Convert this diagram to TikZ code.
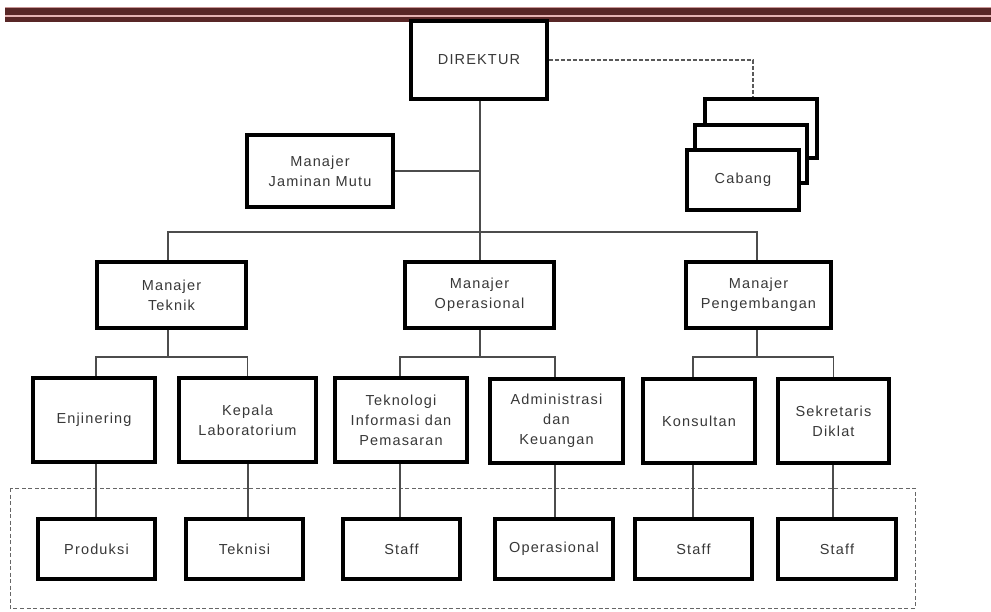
\documentclass[tikz,border=0pt]{standalone}
\usepackage{fontspec}
\setmainfont{Liberation Sans}[LetterSpace=8]
\definecolor{bandDark}{RGB}{88,38,38}
\definecolor{bandLight}{RGB}{228,178,178}
\definecolor{bandEdge}{RGB}{200,150,150}
\begin{document}
\begin{tikzpicture}[x=1pt,y=-1pt,
  box/.style={draw=black, line width=3.6pt, fill=white, inner sep=0pt, align=center,
    font=\fontsize{14.5}{20}\selectfont, text=black!78},
  conn/.style={draw=black!70, line width=1.3pt},
  dconn/.style={draw=black!65, line width=1.6pt, dash pattern=on 4pt off 2pt},
  drect/.style={draw=black!60, line width=1pt, dash pattern=on 4pt off 2.5pt}]
\useasboundingbox (0,0) rectangle (991,612);
% top band
\fill[bandDark] (5,7) rectangle (991,22);
\fill[bandEdge] (5,7) rectangle (991,8.5);
\fill[bandLight] (5,15.5) rectangle (991,17);
% group frame
\draw[drect] (10,488) rectangle (915,608);
% junction coordinates
\coordinate (j0) at (480,232);
\coordinate (bt) at (168,357);
\coordinate (bo) at (480,357);
\coordinate (bp) at (757,357);
% nodes
\node[box, minimum width=136, minimum height=78] (dir) at (479,60) {DIREKTUR};
\node[box, minimum width=146, minimum height=72] (jm) at (320,171) {Manajer\\Jaminan Mutu};
\node[box, minimum width=112, minimum height=59] (cb3) at (761,128.5) {};
\node[box, minimum width=112, minimum height=58] (cb2) at (751,154) {};
\node[box, minimum width=112, minimum height=60] (cb1) at (743,180) {Cabang};
\node[box, minimum width=149, minimum height=66] (mt) at (171.5,295) {Manajer\\Teknik};
\node[box, minimum width=149, minimum height=66] (mo) at (479.5,295) {Manajer\\Operasional};
\node[box, minimum width=145, minimum height=66] (mp) at (758.5,295) {Manajer\\Pengembangan};
\node[box, minimum width=122, minimum height=84] (en) at (94,420) {Enjinering};
\node[box, minimum width=137, minimum height=84] (kl) at (247.5,420) {Kepala\\Laboratorium};
\node[box, minimum width=132, minimum height=84] (ti) at (401,420) {Teknologi\\Informasi dan\\Pemasaran};
\node[box, minimum width=133, minimum height=84] (ak) at (556.5,421) {Administrasi\\dan\\Keuangan};
\node[box, minimum width=112, minimum height=84] (ko) at (699,421) {Konsultan};
\node[box, minimum width=111, minimum height=84] (sd) at (833.5,421) {Sekretaris\\Diklat};
\node[box, minimum width=117, minimum height=60] (pr) at (96.5,549) {Produksi};
\node[box, minimum width=117, minimum height=60] (te) at (244.5,549) {Teknisi};
\node[box, minimum width=117, minimum height=60] (s1) at (401.5,549) {Staff};
\node[box, minimum width=118, minimum height=60] (op) at (554,549) {Operasional};
\node[box, minimum width=117, minimum height=60] (s2) at (693.5,549) {Staff};
\node[box, minimum width=118, minimum height=60] (s3) at (837,549) {Staff};
% connectors
\draw[dconn] (dir.east) -| ([xshift=-8pt]cb3.north);
\draw[conn] (dir.south -| j0) -- (j0 |- mo.north);
\draw[conn] (jm.east) -- (jm.east -| j0);
\draw[conn] (bt |- mt.north) |- (j0) -| (bp |- mp.north);
\draw[conn] (bt |- mt.south) -- (bt);
\draw[conn] ([xshift=2pt]en.north) |- (bt) -| (kl.north);
\draw[conn] (bo |- mo.south) -- (bo);
\draw[conn] ([xshift=-1pt]ti.north) |- (bo) -| ([xshift=-1.5pt]ak.north);
\draw[conn] (bp |- mp.south) -- (bp);
\draw[conn] ([xshift=-6pt]ko.north) |- (bp) -| (sd.north);
\draw[conn] ([xshift=-0.5pt]pr.north) -- ([xshift=-0.5pt]pr.north |- en.south);
\draw[conn] ([xshift=3.5pt]te.north) -- ([xshift=3.5pt]te.north |- kl.south);
\draw[conn] ([xshift=-1.5pt]s1.north) -- ([xshift=-1.5pt]s1.north |- ti.south);
\draw[conn] ([xshift=1pt]op.north) -- ([xshift=1pt]op.north |- ak.south);
\draw[conn] ([xshift=-0.5pt]s2.north) -- ([xshift=-0.5pt]s2.north |- ko.south);
\draw[conn] ([xshift=-4pt]s3.north) -- ([xshift=-4pt]s3.north |- sd.south);
\end{tikzpicture}
\end{document}
